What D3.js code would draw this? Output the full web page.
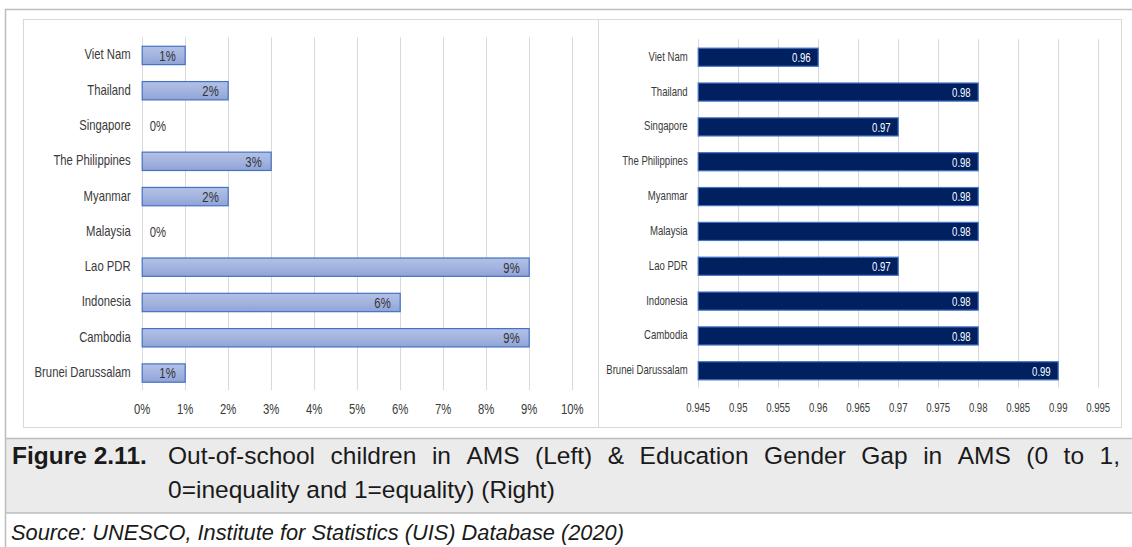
<!DOCTYPE html>
<html>
<head>
<meta charset="utf-8">
<script src="https://cdn.jsdelivr.net/npm/d3@7"></script>
<style>
  html, body { margin: 0; padding: 0; background: #ffffff; }
  svg { display: block; }
</style>
</head>
<body>
<svg id="fig" width="1132" height="547"></svg>
<script>
// Countries, top to bottom as drawn
const countries = ["Viet Nam", "Thailand", "Singapore", "The Philippines", "Myanmar",
                   "Malaysia", "Lao PDR", "Indonesia", "Cambodia", "Brunei Darussalam"];
// Out-of-school children, percent
const outOfSchool = [1, 2, 0, 3, 2, 0, 9, 6, 9, 1];
// Education gender gap index (0 = inequality, 1 = equality)
const genderGap = [0.96, 0.98, 0.97, 0.98, 0.98, 0.98, 0.97, 0.98, 0.98, 0.99];
// Axis ticks
const leftTicks = [0, 1, 2, 3, 4, 5, 6, 7, 8, 9, 10];
const rightTicks = [0.945, 0.95, 0.955, 0.96, 0.965, 0.97, 0.975, 0.98, 0.985, 0.99, 0.995];

const captionBold = "Figure 2.11.";
const captionLine1 = "Out-of-school children in AMS (Left) & Education Gender Gap in AMS (0 to 1,";
const captionLine2 = "0=inequality and 1=equality) (Right)";
const sourceText = "Source: UNESCO, Institute for Statistics (UIS) Database (2020)";

const svg = d3.select("#fig");
const defs = svg.append("defs");
const grad = defs.append("linearGradient").attr("id", "barGrad")
  .attr("x1", 0).attr("y1", 0).attr("x2", 0).attr("y2", 1);
grad.append("stop").attr("offset", "0%").attr("stop-color", "#b3c1e6");
grad.append("stop").attr("offset", "50%").attr("stop-color", "#a3b4e0");
grad.append("stop").attr("offset", "100%").attr("stop-color", "#8fa3d6");

// Outer frame (top rule)
svg.append("line").attr("x1", 5).attr("x2", 1132).attr("y1", 9.5).attr("y2", 9.5)
  .attr("stroke", "#bdbdbd").attr("stroke-width", 1.5);

// Chart panels
svg.append("rect").attr("x", 23.5).attr("y", 19.5).attr("width", 575).attr("height", 408)
  .attr("fill", "#fff").attr("stroke", "#d9d9d9");
svg.append("rect").attr("x", 598.5).attr("y", 19.5).attr("width", 523).attr("height", 408)
  .attr("fill", "#fff").attr("stroke", "#d9d9d9");

const chartFont = "'Liberation Sans', Arial, sans-serif";
const textColor = "#3a3a3a";

// squeeze text horizontally around its anchor point (condensed look)
function condense(sel, s) {
  sel.each(function () {
    const t = d3.select(this);
    const x = +t.attr("x") || 0, y = +t.attr("y") || 0;
    t.attr("x", 0).attr("y", 0).attr("transform", `translate(${x},${y}) scale(${s},1)`);
  });
}

function drawChart(opt) {
  const g = svg.append("g");
  const x = d3.scaleLinear().domain(opt.domain).range(opt.xRange);
  const y = d3.scaleBand().domain(countries).range(opt.yRange)
    .paddingInner(0.48).paddingOuter(0.24);
  const x0 = x(opt.domain[0]);

  // vertical gridlines
  g.append("g").selectAll("line").data(opt.ticks).join("line")
    .attr("x1", d => Math.round(x(d)) + 0.5).attr("x2", d => Math.round(x(d)) + 0.5)
    .attr("y1", opt.yRange[0]).attr("y2", opt.yRange[1])
    .attr("stroke", "#d9d9d9").attr("stroke-width", 1);

  // value axis tick labels
  const ax = d3.axisBottom(x).tickValues(opt.ticks).tickFormat(opt.tickFmt).tickSize(0).tickPadding(0);
  const axG = g.append("g").attr("transform", `translate(0,${opt.tickY})`).call(ax);
  axG.select(".domain").remove();
  axG.selectAll("text").attr("font-family", chartFont).attr("font-size", opt.fontSize)
    .attr("fill", textColor).attr("dy", "0.35em").call(condense, opt.squeeze);

  // category labels
  const ay = d3.axisLeft(y).tickSize(0).tickPadding(opt.catPad);
  const ayG = g.append("g").attr("transform", `translate(${x0},0)`).call(ay);
  ayG.select(".domain").remove();
  ayG.selectAll("text").attr("font-family", chartFont).attr("font-size", opt.fontSize)
    .attr("fill", textColor).call(condense, opt.squeeze);

  // bars
  const rows = countries.map((c, i) => ({ c, v: opt.values[i] }));
  const hasBar = d => x(d.v) > x0 + 0.5;
  g.append("g").selectAll("rect").data(rows.filter(hasBar)).join("rect")
    .attr("x", x0 + 0.5)
    .attr("y", d => y(d.c) + 0.5)
    .attr("width", d => x(d.v) - x0)
    .attr("height", y.bandwidth())
    .attr("fill", opt.fill).attr("stroke", "#4472c4").attr("stroke-width", 1.2);

  // data labels
  g.append("g").selectAll("text").data(rows).join("text")
    .attr("x", d => hasBar(d) ? x(d.v) - opt.labelInset : x0 + 8)
    .attr("y", d => y(d.c) + y.bandwidth() / 2 + 1)
    .attr("dy", "0.35em")
    .attr("text-anchor", d => hasBar(d) ? "end" : "start")
    .attr("font-family", chartFont).attr("font-size", opt.fontSize)
    .attr("fill", d => hasBar(d) ? opt.labelColor : textColor)
    .text(d => opt.labelFmt(d.v))
    .call(condense, opt.squeeze);
}

drawChart({
  values: outOfSchool, domain: [0, 10], xRange: [141.7, 571.7], yRange: [37.3, 390.2],
  ticks: leftTicks, tickFmt: d => d + "%", labelFmt: d => d + "%",
  tickY: 409, fontSize: 13.8, squeeze: 0.82, catPad: 11, fill: "url(#barGrad)",
  labelColor: "#333333", labelInset: 9
});

drawChart({
  values: genderGap, domain: [0.945, 0.995], xRange: [697.7, 1097.7], yRange: [39.3, 387.7],
  ticks: rightTicks, tickFmt: d => String(+d.toFixed(3)), labelFmt: d => d.toFixed(2),
  tickY: 408, fontSize: 12.6, squeeze: 0.76, catPad: 10, fill: "#002060",
  labelColor: "#ffffff", labelInset: 7
});

// Caption band
svg.append("rect").attr("x", 5).attr("y", 438.5).attr("width", 1127).attr("height", 74.5)
  .attr("fill", "#ebebeb");
svg.append("line").attr("x1", 5).attr("x2", 1132).attr("y1", 438.5).attr("y2", 438.5)
  .attr("stroke", "#bdbdbd").attr("stroke-width", 1.5);
svg.append("line").attr("x1", 5).attr("x2", 1132).attr("y1", 513).attr("y2", 513)
  .attr("stroke", "#bdbdbd").attr("stroke-width", 1.5);
// left frame rule
svg.append("line").attr("x1", 5.5).attr("x2", 5.5).attr("y1", 9).attr("y2", 547)
  .attr("stroke", "#bdbdbd").attr("stroke-width", 1.5);

const capFont = "'Liberation Sans', Arial, Helvetica, sans-serif";
const capSize = 24.5;
const line1Y = 464, line2Y = 498;
svg.append("text").attr("x", 12).attr("y", line1Y)
  .attr("font-family", capFont).attr("font-size", capSize).attr("font-weight", "bold")
  .attr("fill", "#1a1a1a").text(captionBold);

// first caption line, justified between the text start and the right margin
const words = captionLine1.split(" ");
const wordG = svg.append("g").attr("font-family", capFont).attr("font-size", capSize).attr("fill", "#1a1a1a");
const wNodes = words.map(w => wordG.append("text").attr("y", line1Y).text(w));
const widths = wNodes.map(n => n.node().getComputedTextLength());
const startX = 168, endX = 1120;
const gap = (endX - startX - d3.sum(widths)) / (words.length - 1);
let cx = startX;
wNodes.forEach((n, i) => { n.attr("x", cx); cx += widths[i] + gap; });

svg.append("text").attr("x", 168).attr("y", line2Y)
  .attr("font-family", capFont).attr("font-size", capSize)
  .attr("fill", "#1a1a1a").text(captionLine2);

svg.append("text").attr("x", 11).attr("y", 540)
  .attr("font-family", capFont).attr("font-size", 21.8).attr("font-style", "italic")
  .attr("fill", "#1a1a1a").text(sourceText);
</script>
</body>
</html>
